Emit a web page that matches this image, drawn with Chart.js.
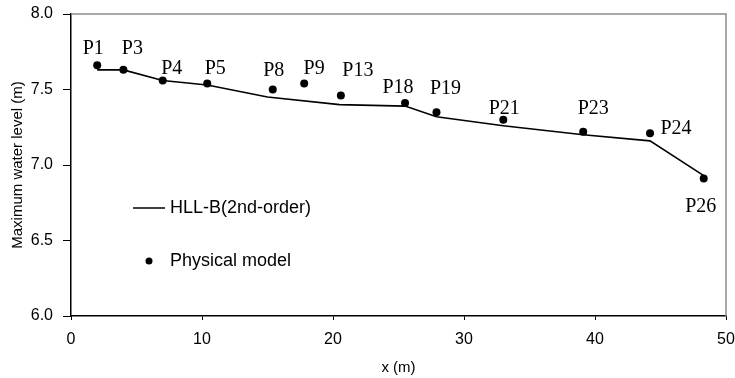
<!DOCTYPE html>
<html lang="en">
<head>
    <meta charset="UTF-8">
    <title>Maximum water level</title>
    <script src="https://cdn.jsdelivr.net/npm/chart.js"></script>
    <style>
        body { margin: 0; background: #fff; }
    </style>
</head>
<body>
    <canvas id="waterChart" width="735" height="378"></canvas>

    <script>
        // simulated profile (HLL-B 2nd order)
        const lineX = [2.0, 4.0, 7.0, 10.4, 15.0, 20.5, 25.5, 27.9, 33.0, 39.1, 44.2, 48.3];
        const lineY = [7.63, 7.63, 7.56, 7.53, 7.45, 7.40, 7.39, 7.32, 7.26, 7.20, 7.16, 6.93];

        // gauges from the physical model
        const gaugeNames = ['P1', 'P3', 'P4', 'P5', 'P8', 'P9', 'P13', 'P18', 'P19', 'P21', 'P23', 'P24', 'P26'];
        const gaugeX = [2.0, 4.0, 7.0, 10.4, 15.4, 17.8, 20.6, 25.5, 27.9, 33.0, 39.1, 44.2, 48.3];
        const gaugeY = [7.66, 7.63, 7.56, 7.54, 7.50, 7.54, 7.46, 7.41, 7.35, 7.30, 7.22, 7.21, 6.91];

        const xTicks = [0, 10, 20, 30, 40, 50];
        const yTicks = [6.0, 6.5, 7.0, 7.5, 8.0];

        // where each gauge name sits, in px from its dot
        const nameShift = {
            P1: [-4, -18], P3: [9, -23], P4: [9, -13], P5: [8, -16], P8: [1, -21],
            P9: [10, -16], P13: [17, -27], P18: [-7, -17], P19: [9, -25], P21: [1, -13],
            P23: [10, -25], P24: [26, -6], P26: [-3, 26]
        };

        Chart.defaults.font.family = "'Liberation Sans', Arial, sans-serif";
        Chart.defaults.color = '#000';

        const framePlugin = {
            id: 'frame',
            afterDatasetsDraw(chart) {
                const { ctx, chartArea: a } = chart;
                ctx.save();
                ctx.strokeStyle = '#8c8c8c';
                ctx.lineWidth = 1.5;
                ctx.beginPath();
                ctx.moveTo(a.left, a.top);
                ctx.lineTo(a.right, a.top);
                ctx.lineTo(a.right, a.bottom);
                ctx.stroke();
                ctx.restore();
            }
        };

        const namesPlugin = {
            id: 'gaugeNames',
            afterDatasetsDraw(chart) {
                const { ctx } = chart;
                const xs = chart.scales.x, ys = chart.scales.y;
                ctx.save();
                ctx.font = "20px 'Liberation Serif', 'Times New Roman', serif";
                ctx.fillStyle = '#000';
                ctx.textAlign = 'center';
                ctx.textBaseline = 'alphabetic';
                gaugeNames.forEach((name, i) => {
                    const s = nameShift[name] || [0, -18];
                    const px = xs.getPixelForValue(gaugeX[i]) + s[0];
                    const py = ys.getPixelForValue(gaugeY[i]) + s[1] + 7;
                    ctx.fillText(name, px, py);
                });
                ctx.restore();
            }
        };

        const legendPlugin = {
            id: 'insideLegend',
            afterDraw(chart) {
                const { ctx, chartArea: a } = chart;
                const sets = chart.data.datasets;
                const x0 = a.left + 62, tx = a.left + 99;
                ctx.save();
                ctx.font = "18px 'Liberation Sans', Arial, sans-serif";
                ctx.fillStyle = '#000';
                ctx.textBaseline = 'middle';
                // line entry
                ctx.strokeStyle = '#000';
                ctx.lineWidth = 1.5;
                ctx.beginPath();
                ctx.moveTo(x0, a.top + 194);
                ctx.lineTo(x0 + 32, a.top + 194);
                ctx.stroke();
                ctx.fillText(sets[0].label, tx, a.top + 194);
                // dot entry
                ctx.beginPath();
                ctx.arc(x0 + 16, a.top + 247, 3.5, 0, Math.PI * 2);
                ctx.fill();
                ctx.fillText(sets[1].label, tx, a.top + 247);
                ctx.restore();
            }
        };

        const ctx = document.getElementById('waterChart').getContext('2d');
        new Chart(ctx, {
            type: 'scatter',
            data: {
                datasets: [{
                    label: 'HLL-B(2nd-order)',
                    data: lineX.map((x, i) => ({ x: x, y: lineY[i] })),
                    showLine: true,
                    borderColor: '#000',
                    borderWidth: 1.6,
                    pointRadius: 0,
                    tension: 0
                }, {
                    label: 'Physical model',
                    data: gaugeX.map((x, i) => ({ x: x, y: gaugeY[i] })),
                    showLine: false,
                    backgroundColor: '#000',
                    borderColor: '#000',
                    pointRadius: 4,
                    pointBorderWidth: 0
                }]
            },
            options: {
                responsive: false,
                animation: false,
                devicePixelRatio: 1,
                layout: { padding: { top: 14, right: 9, left: 0, bottom: 0 } },
                plugins: {
                    legend: { display: false },
                    tooltip: { enabled: false }
                },
                scales: {
                    x: {
                        type: 'linear',
                        min: 0,
                        max: 50,
                        afterBuildTicks: s => { s.ticks = xTicks.map(v => ({ value: v })); },
                        afterFit: s => { s.height = 62; s.paddingLeft = 0; s.paddingRight = 0; },
                        grid: { drawOnChartArea: false, drawTicks: true, tickLength: 4, color: '#000' },
                        border: { color: '#000', width: 1.5 },
                        ticks: { font: { size: 16 }, padding: 10, color: '#000', maxRotation: 0 },
                        title: { display: true, text: 'x (m)', font: { size: 15 }, color: '#000', padding: { top: 0, bottom: 1 } }
                    },
                    y: {
                        type: 'linear',
                        min: 6,
                        max: 8,
                        afterBuildTicks: s => { s.ticks = yTicks.map(v => ({ value: v })); },
                        afterFit: s => { s.width = 71; s.paddingTop = 0; s.paddingBottom = 0; },
                        grid: { drawOnChartArea: false, drawTicks: true, tickLength: 8, color: '#000' },
                        border: { color: '#000', width: 1.5 },
                        ticks: { font: { size: 16 }, padding: 10, color: '#000', callback: v => v.toFixed(1) },
                        title: { display: true, text: 'Maximum water level (m)', font: { size: 15 }, color: '#000', padding: { top: 9, bottom: 0 } }
                    }
                }
            },
            plugins: [framePlugin, namesPlugin, legendPlugin]
        });
    </script>
</body>
</html>
